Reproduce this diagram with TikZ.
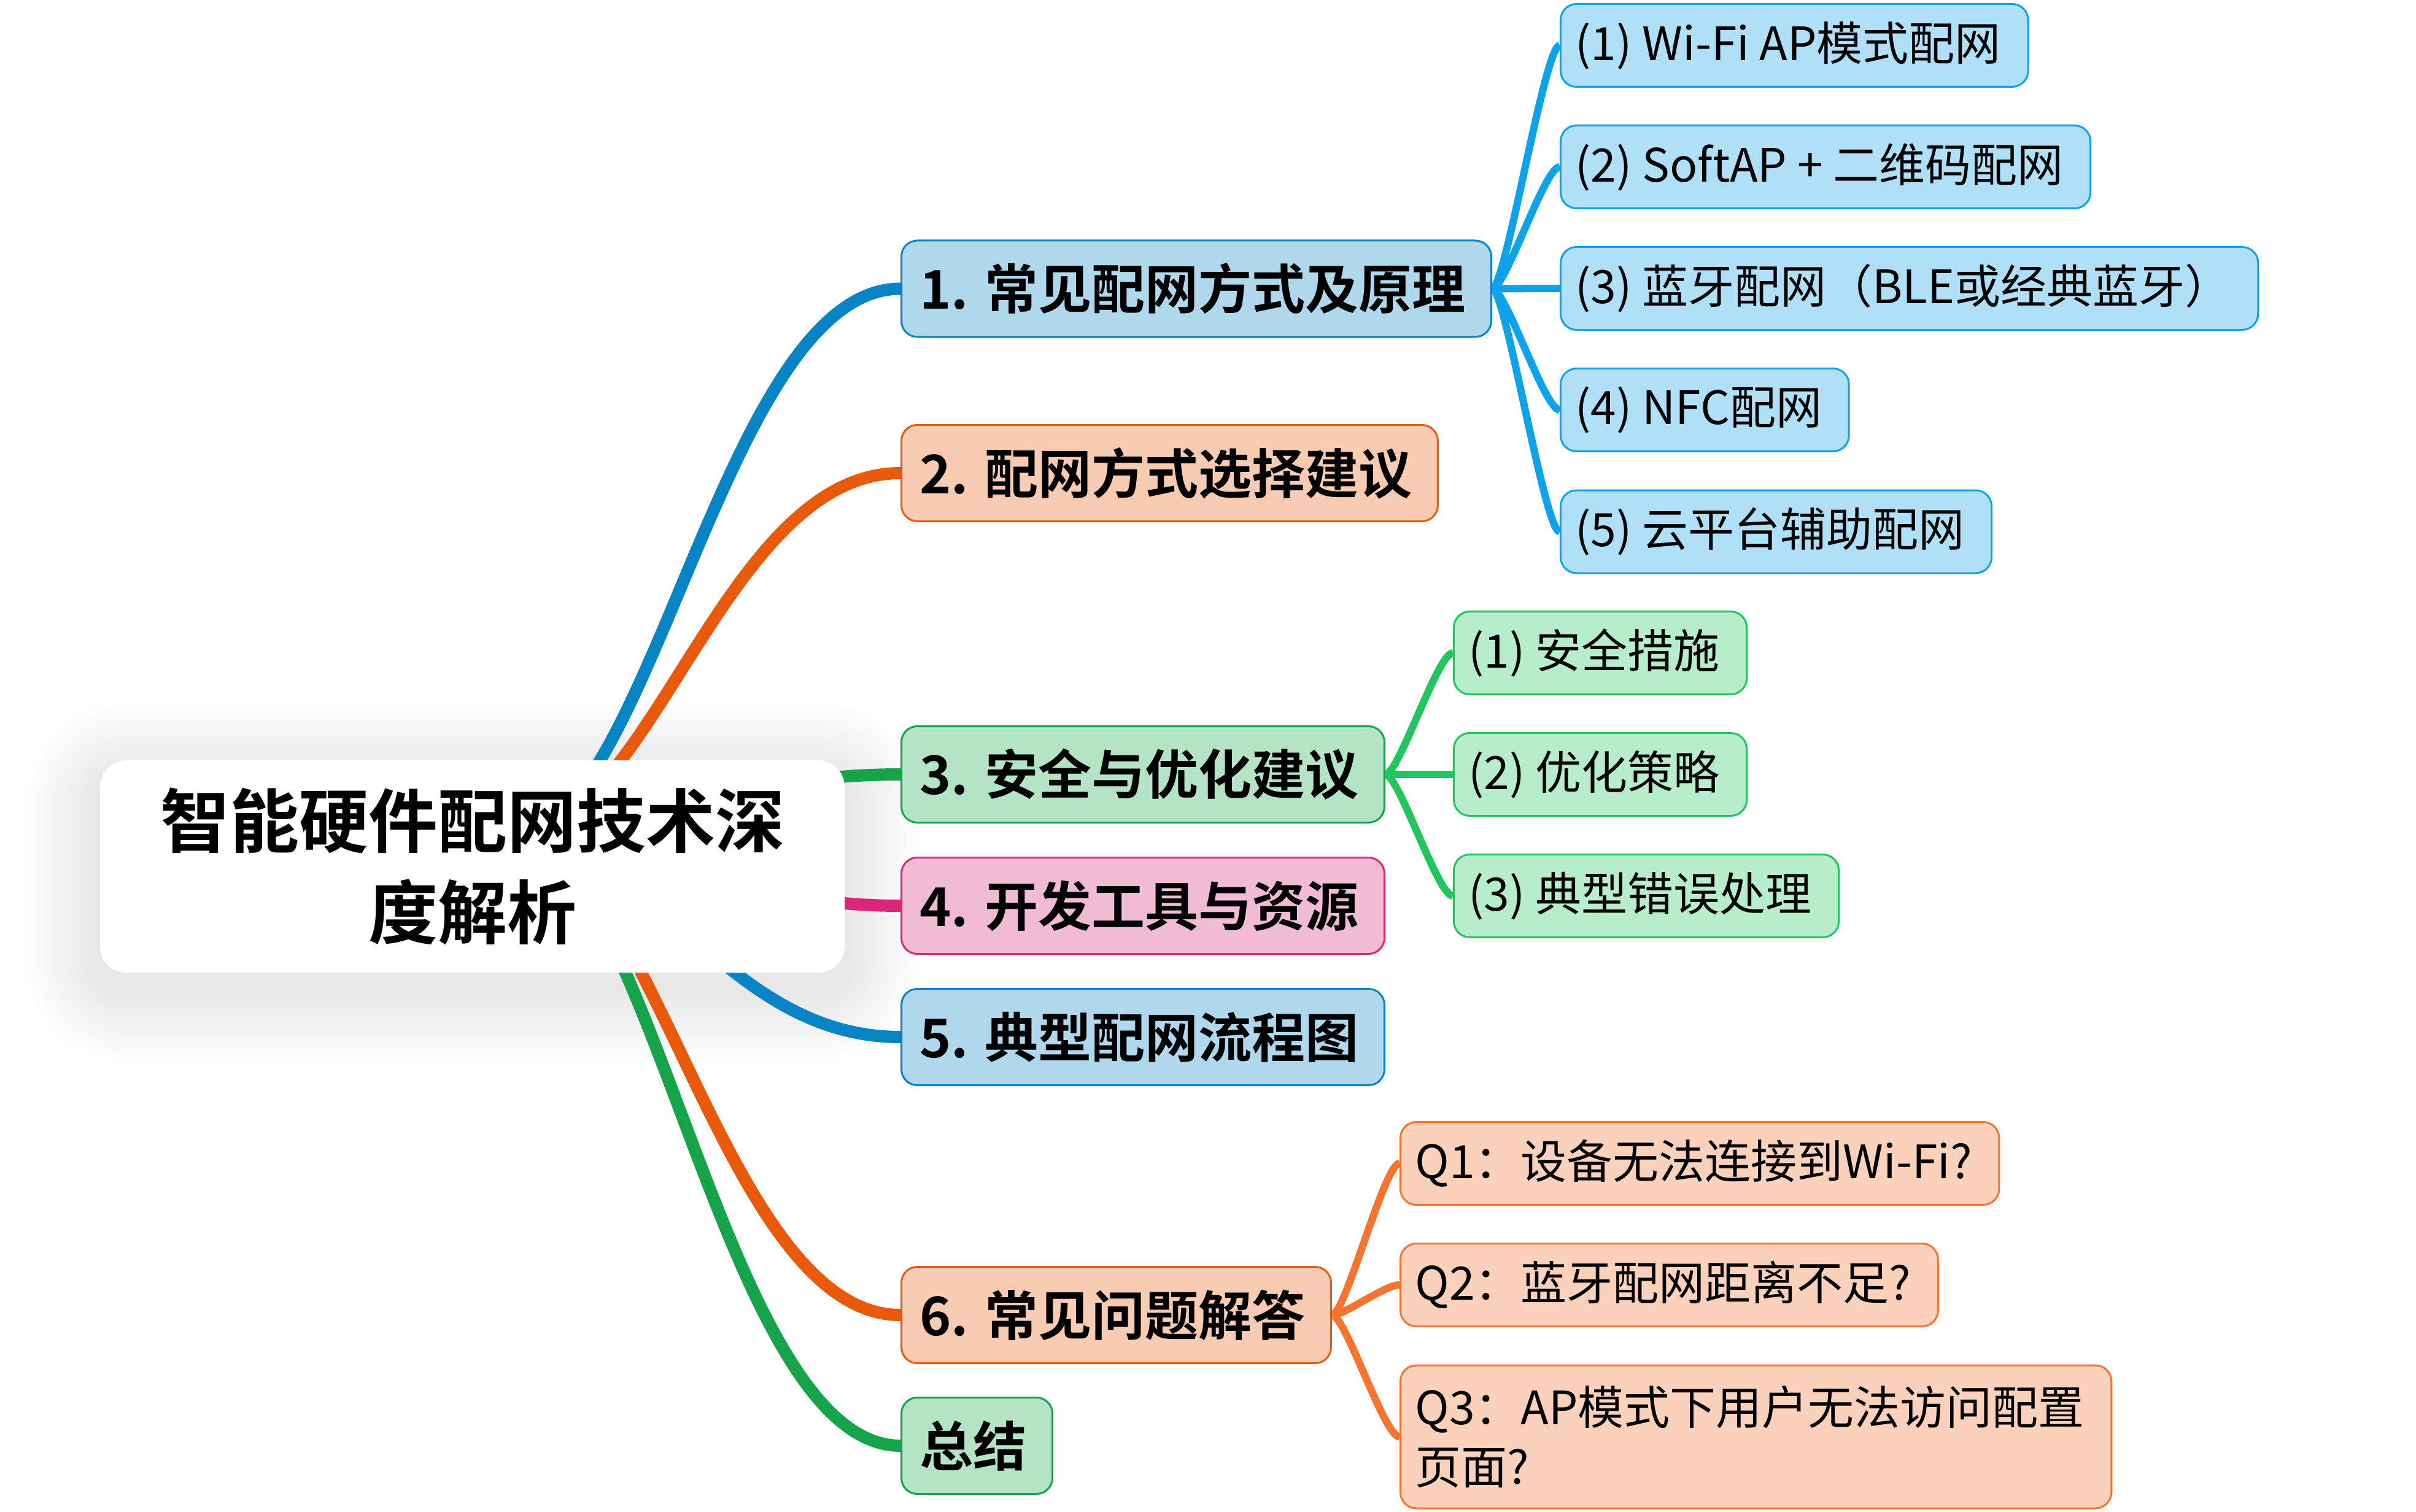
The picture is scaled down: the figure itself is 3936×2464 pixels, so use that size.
\documentclass[tikz,border=0pt]{standalone}
\usepackage{fontspec}
\setmainfont{Noto Sans CJK SC}[BoldFont={* Bold}]
\usetikzlibrary{backgrounds,calc}
\definecolor{cblue}{HTML}{0784C6}\definecolor{fblue}{HTML}{B0D8EC}
\definecolor{corange}{HTML}{E8590C}\definecolor{forange}{HTML}{F7CBB1}
\definecolor{cgreen}{HTML}{16A34A}\definecolor{fgreen}{HTML}{B4E3C6}
\definecolor{cpink}{HTML}{DB2777}\definecolor{fpink}{HTML}{F2BBD4}
\definecolor{csky}{HTML}{0EA2EA}\definecolor{fsky}{HTML}{B0E0F8}
\definecolor{cmint}{HTML}{22C55E}\definecolor{fmint}{HTML}{B7EDCB}
\definecolor{camber}{HTML}{F57530}\definecolor{famber}{HTML}{FAD2BC}
\begin{document}
\begin{tikzpicture}[x=1pt,y=-1pt,
  topic/.style={rounded corners=26pt,line width=3pt,minimum height=157pt,inner xsep=30pt,anchor=west,
    font=\fontsize{87}{100}\selectfont\bfseries,execute at end node=\hspace*{12pt}},
  leaf/.style={rounded corners=26pt,line width=3pt,minimum height=135pt,inner xsep=24pt,anchor=west,
    align=left,font=\fontsize{75}{97}\selectfont,execute at end node=\hspace*{20pt}},
  oneline/.style={},twoline/.style={minimum height=233pt},
  trunk/.style={line width=20pt},
  twig/.style={line width=12pt}]
\useasboundingbox (0,0) rectangle (3936,2464);
\pgfmathsetmacro{\ktx}{1467}
\pgfmathsetmacro{\kgap}{110}
\node[fill=white,rounded corners=43pt,minimum width=1213pt,minimum height=346pt,align=center,
  font=\fontsize{113}{149}\selectfont\bfseries] (root) at (769.5,1412) {智能硬件配网技术深\\度解析};
% first level
\foreach \nm/\yy/\cl/\txt in {t1/470.5/blue/{1. 常见配网方式及原理},t2/771/orange/{2. 配网方式选择建议},
  t3/1262/green/{3. 安全与优化建议},t4/1476/pink/{4. 开发工具与资源},t5/1690/blue/{5. 典型配网流程图},
  t6/2143/orange/{6. 常见问题解答},t7/2356/green/{总结}}{
  \node[topic,draw=c\cl,fill=f\cl] (\nm) at (\ktx,\yy) {\txt};}
\path (t1.east) ++(\kgap,0) coordinate (k1) (t3.east) ++(\kgap,0) coordinate (k3)
  (t6.east) ++(\kgap,0) coordinate (k6);
% second level
\foreach \nm/\yy/\txt in {s1/74/{(1) Wi-Fi AP模式配网},s2/272/{(2) SoftAP + 二维码配网},
  s3/470/{(3) 蓝牙配网（BLE或经典蓝牙）},s4/668/{(4) NFC配网},s5/866.5/{(5) 云平台辅助配网}}{
  \node[leaf,draw=csky,fill=fsky] (\nm) at (k1 |- 0,\yy) {\txt};}
\foreach \nm/\yy/\txt in {g1/1064/{(1) 安全措施},g2/1262/{(2) 优化策略},g3/1460/{(3) 典型错误处理}}{
  \node[leaf,draw=cmint,fill=fmint] (\nm) at (k3 |- 0,\yy) {\txt};}
\foreach \nm/\yy/\op/\txt in {q1/1896/oneline/{Q1：设备无法连接到Wi-Fi?},q2/2094/oneline/{Q2：蓝牙配网距离不足?},
  q3/2341.5/twoline/{Q3：AP模式下用户无法访问配置\\页面?}}{
  \node[leaf,draw=camber,fill=famber,\op] (\nm) at (k6 |- 0,\yy) {\txt};}
\begin{scope}[on background layer]
\fill[white] (0,0) rectangle (3936,2464);
%soft shadow round the root
\foreach \r in {10,20,...,120}{
  \fill[black,opacity=0.009,rounded corners=43+\r] ($(root.north west)+(-\r,-\r+25)$) rectangle ($(root.south east)+(\r,\r+25)$);}
\coordinate (hub) at (833,1362);
\foreach \nm/\cl in {t1/blue,t2/orange,t3/green,t4/pink,t5/blue,t6/orange,t7/green}{
  \draw[trunk,c\cl] (hub) .. controls +(227,0) and +(-290,0) .. (\nm.west);}
\foreach \nm in {s1,s2,s3,s4,s5}{\draw[twig,csky] (t1.east) .. controls +(22,0) and +(-25,0) .. (\nm.west);}
\foreach \nm in {g1,g2,g3}{\draw[twig,cmint] (t3.east) .. controls +(22,0) and +(-25,0) .. (\nm.west);}
\foreach \nm in {q1,q2,q3}{\draw[twig,camber] (t6.east) .. controls +(22,0) and +(-25,0) .. (\nm.west);}
\end{scope}
\end{tikzpicture}
\end{document}
